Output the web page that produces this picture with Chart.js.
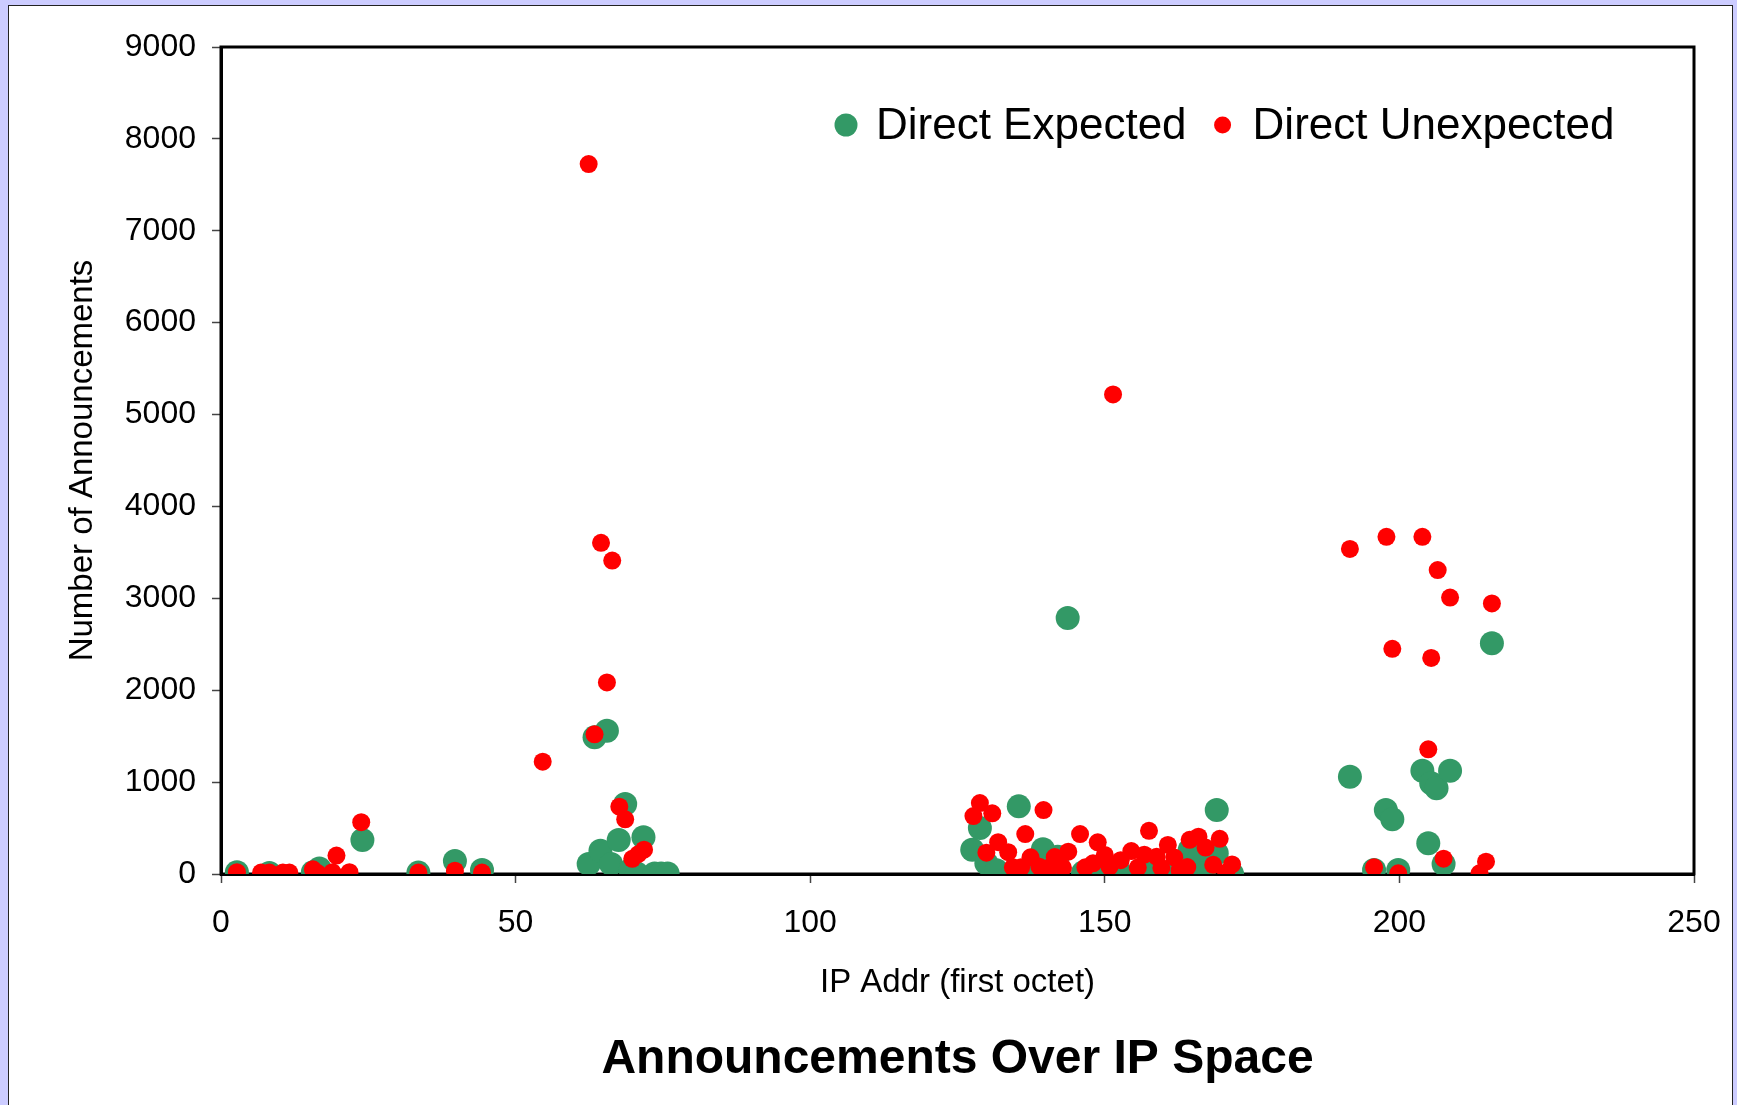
<!DOCTYPE html>
<html>
<head>
<meta charset="utf-8">
<title>Announcements Over IP Space</title>
<script src="https://cdn.jsdelivr.net/npm/chart.js@4.4.1/dist/chart.umd.min.js"></script>
<style>
  html, body { margin: 0; padding: 0; background: #ccccff; }
  canvas { display: block; }
</style>
</head>
<body>
<canvas id="chart" width="1737" height="1105"></canvas>
<script>
// Direct Expected announcements: first octet of the prefix and announcement count
const expectedX = [2.7, 8.2, 15.6, 16.7, 24.0, 33.5, 39.7, 44.3,
  62.4, 63.4, 64.4, 65.5, 66.2, 67.5, 68.6, 69.5, 70.6, 71.7, 73.6, 74.7, 75.8,
  127.5, 128.8, 129.9, 131.6, 134.5, 135.4, 137.4, 138.9, 139.5, 141.5, 142.0, 143.7, 146.3, 148.6,
  150.3, 152.6, 155.9, 158.2, 161.0, 163.2, 164.4, 165.0, 166.1, 166.8, 169.0, 169.0, 171.6,
  191.6, 195.7, 197.7, 198.8, 199.8, 203.9, 204.9, 205.4, 206.3, 207.5, 208.6, 215.7];
const expectedY = [20, 10, 20, 60, 370, 15, 141, 44,
  109, 1487, 254, 1560, 109, 370, 762, 45, 5, 399, 5, 5, 5,
  265, 500, 116, 40, 20, 736, 20, 20, 270, 30, 188, 2785, 15, 10,
  15, 10, 15, 15, 15, 15, 261, 10, 188, 10, 696, 225, 0,
  1059, 44, 696, 595, 44, 1124, 334, 987, 932, 109, 1124, 2510];

// Direct Unexpected announcements
const unexpectedX = [2.7, 6.8, 8.2, 10.5, 11.6, 15.6, 16.4, 18.9, 19.6, 21.8, 23.8, 33.5, 39.7, 44.3,
  54.6, 62.4, 63.4, 64.5, 65.5, 66.4, 67.6, 68.6, 69.8, 70.8, 71.8,
  127.7, 128.8, 129.9, 130.9, 131.9, 133.6, 134.4, 135.8, 136.5, 137.4,
  138.9, 139.6, 140.6, 141.5, 142.9, 143.8, 145.8, 146.7, 148.0, 148.8,
  150.0, 150.8, 151.4, 152.7, 154.5, 155.6, 156.7, 157.5, 158.8, 159.6,
  160.7, 161.8, 162.7, 164.0, 164.4, 165.9, 167.1, 168.4, 169.5, 170.6, 171.6,
  191.6, 195.7, 197.8, 198.8, 199.8, 203.9, 204.9, 205.4, 206.5, 207.5, 208.6, 213.6, 214.7, 215.7];
const unexpectedY = [20, 15, 15, 15, 15, 51, 10, 20, 200, 20, 564, 15, 36, 15,
  1222, 7726, 1520, 3604, 2085, 3411, 732, 595, 165, 215, 265,
  631, 772, 232, 660, 346, 238, 73, 73, 435, 182,
  80, 696, 70, 185, 68, 243, 435, 73, 116, 345,
  207, 80, 5219, 150, 250, 70, 210, 470, 188, 68,
  316, 180, 40, 76, 372, 406, 288, 100, 383, 15, 104,
  3538, 73, 3670, 2450, 8, 3670, 1357, 2352, 3307, 167, 3008, 8, 134, 2945];

const seriesNames = ['Direct Expected', 'Direct Unexpected'];
const xTicks = [0, 50, 100, 150, 200, 250];
const yTicks = [0, 1000, 2000, 3000, 4000, 5000, 6000, 7000, 8000, 9000];

const FONT = '"Liberation Sans", Arial, Helvetica, sans-serif';

function toPoints(xs, ys) {
  return xs.map((x, i) => ({ x: x, y: ys[i] }));
}

// Lavender page with a white panel behind the whole chart
const panelPlugin = {
  id: 'panel',
  beforeDraw(chart) {
    const { ctx, width, height } = chart;
    ctx.save();
    ctx.fillStyle = '#ccccff';
    ctx.fillRect(0, 0, width, height);
    ctx.fillStyle = '#ffffff';
    ctx.fillRect(8, 5, width - 12, height - 3);
    ctx.strokeStyle = '#222222';
    ctx.lineWidth = 1;
    ctx.strokeRect(8.5, 5.5, width - 13, height - 2);
    ctx.restore();
  }
};

// Black box around the plot area (top and right sides complete the axes)
const plotFramePlugin = {
  id: 'plotFrame',
  beforeDatasetsDraw(chart) {
    const { ctx, chartArea } = chart;
    ctx.save();
    ctx.strokeStyle = '#000000';
    ctx.lineWidth = 3;
    ctx.strokeRect(chartArea.left, chartArea.top, chartArea.right - chartArea.left, chartArea.bottom - chartArea.top);
    ctx.restore();
  }
};

// Legend drawn inside the plot area, upper right
const insideLegendPlugin = {
  id: 'insideLegend',
  afterDraw(chart) {
    const { ctx, chartArea } = chart;
    ctx.save();
    ctx.font = '44px ' + FONT;
    ctx.textBaseline = 'middle';
    ctx.textAlign = 'left';
    let x = chartArea.left + 625;
    const y = chartArea.top + 78;
    const items = chart.data.datasets.slice().sort((a, b) => b.order - a.order);
    items.forEach((ds) => {
      ctx.beginPath();
      ctx.fillStyle = ds.backgroundColor;
      ctx.arc(x, y, ds.pointRadius - 0.5, 0, Math.PI * 2);
      ctx.fill();
      ctx.fillStyle = '#000000';
      ctx.fillText(ds.label, x + 30, y + 2);
      x += 30 + ctx.measureText(ds.label).width + 36;
    });
    ctx.restore();
  }
};

new Chart(document.getElementById('chart'), {
  type: 'scatter',
  data: {
    datasets: [
      {
        label: seriesNames[0],
        data: toPoints(expectedX, expectedY),
        backgroundColor: '#339966',
        borderColor: '#339966',
        pointRadius: 12,
        pointBorderWidth: 0,
        order: 2
      },
      {
        label: seriesNames[1],
        data: toPoints(unexpectedX, unexpectedY),
        backgroundColor: '#ff0000',
        borderColor: '#ff0000',
        pointRadius: 9,
        pointBorderWidth: 0,
        order: 1
      }
    ]
  },
  options: {
    responsive: false,
    animation: false,
    devicePixelRatio: 1,
    layout: { padding: { left: 0, top: 47, right: 43, bottom: 0 } },
    plugins: {
      legend: { display: false },
      tooltip: { enabled: false },
      title: {
        display: true,
        position: 'bottom',
        fullSize: false,
        text: 'Announcements Over IP Space',
        color: '#000000',
        font: { family: FONT, size: 48, weight: 'bold', lineHeight: 1.2 },
        padding: { top: 10, bottom: 16 }
      }
    },
    scales: {
      x: {
        type: 'linear',
        min: xTicks[0],
        max: xTicks[xTicks.length - 1],
        afterBuildTicks: (scale) => { scale.ticks = xTicks.map(v => ({ value: v })); },
        afterFit: (scale) => {
          scale.height = 147.4;
          scale.paddingLeft = 0;
          scale.paddingRight = 0;
        },
        ticks: { color: '#000000', font: { family: FONT, size: 32 }, padding: 21, maxRotation: 0,
                 callback: (v) => String(v) },
        grid: { drawOnChartArea: false, drawTicks: true, tickLength: 9, tickColor: '#444444', tickWidth: 1.5 },
        border: { display: true, color: '#000000', width: 3 },
        title: {
          display: true,
          text: 'IP Addr (first octet)',
          color: '#000000',
          font: { family: FONT, size: 33, lineHeight: 1.2 },
          padding: { top: 0, bottom: 19 }
        }
      },
      y: {
        type: 'linear',
        min: yTicks[0],
        max: yTicks[yTicks.length - 1],
        afterBuildTicks: (scale) => { scale.ticks = yTicks.map(v => ({ value: v })); },
        afterFit: (scale) => {
          scale.width = 221;
          scale.paddingTop = 0;
          scale.paddingBottom = 0;
        },
        ticks: { color: '#000000', font: { family: FONT, size: 32 }, padding: 16,
                 callback: (v) => String(v) },
        grid: { drawOnChartArea: false, drawTicks: true, tickLength: 9, tickColor: '#444444', tickWidth: 1.5 },
        border: { display: true, color: '#000000', width: 3 },
        title: {
          display: true,
          text: 'Number of Announcements',
          color: '#000000',
          font: { family: FONT, size: 33, lineHeight: 1.2 },
          padding: { top: 63, bottom: 0 }
        }
      }
    }
  },
  plugins: [panelPlugin, plotFramePlugin, insideLegendPlugin]
});
</script>
</body>
</html>
